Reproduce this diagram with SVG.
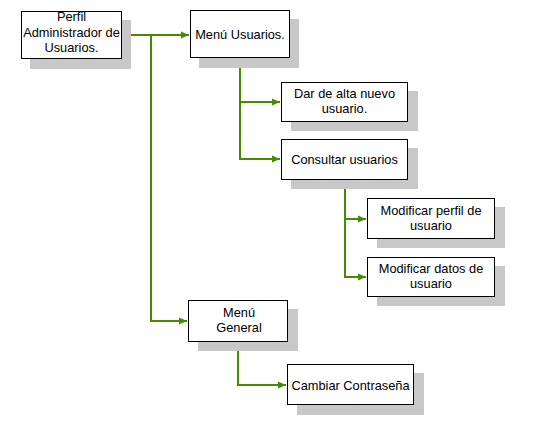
<svg xmlns="http://www.w3.org/2000/svg" width="540" height="435" viewBox="0 0 540 435">
<style>
  .box { fill: #ffffff; stroke: #000000; stroke-width: 1; }
  .shadow { fill: #c8c8c8; stroke: none; }
  .lbl { font-family: "Liberation Sans", Arial, sans-serif; font-size: 12.8px; fill: #000000; text-anchor: middle; }
  .conn { fill: none; stroke: #468c00; stroke-width: 2; }
</style>
<defs>
  <marker id="arr" markerUnits="userSpaceOnUse" markerWidth="9" markerHeight="8" refX="8" refY="4" orient="auto">
    <path d="M0,0.5 L8,4 L0,7.5 Z" fill="#468c00"/>
  </marker>
</defs>
<rect width="540" height="435" fill="#ffffff"/>

<g id="connectors">
  <path class="conn" d="M122,35 H189" marker-end="url(#arr)"/>
  <path class="conn" d="M151,35 V321 H187" marker-end="url(#arr)"/>
  <path class="conn" d="M240,58 V102 H280" marker-end="url(#arr)"/>
  <path class="conn" d="M240,102 V159 H280" marker-end="url(#arr)"/>
  <path class="conn" d="M345,180 V219 H366" marker-end="url(#arr)"/>
  <path class="conn" d="M345,219 V277 H366" marker-end="url(#arr)"/>
  <path class="conn" d="M238,342 V385 H286" marker-end="url(#arr)"/>
</g>

<g id="perfil-admin">
  <rect class="shadow" x="30" y="20" width="101" height="49"/>
  <rect class="box" x="21.5" y="11.5" width="100" height="47"/>
  <text class="lbl" x="71.5" y="21">Perfil</text>
  <text class="lbl" x="71.5" y="36.5">Administrador de</text>
  <text class="lbl" x="71.5" y="52">Usuarios.</text>
</g>

<g id="menu-usuarios">
  <rect class="shadow" x="199" y="19" width="100" height="49"/>
  <rect class="box" x="190.5" y="10.5" width="99" height="47"/>
  <text class="lbl" x="240" y="39">Menú Usuarios.</text>
</g>

<g id="dar-alta">
  <rect class="shadow" x="291" y="91" width="127" height="40"/>
  <rect class="box" x="281.5" y="82.5" width="126" height="39"/>
  <text class="lbl" x="344.5" y="98">Dar de alta nuevo</text>
  <text class="lbl" x="344.5" y="113">usuario.</text>
</g>

<g id="consultar">
  <rect class="shadow" x="291" y="148" width="127" height="41"/>
  <rect class="box" x="281.5" y="139.5" width="126" height="40"/>
  <text class="lbl" x="344.5" y="163.5">Consultar usuarios</text>
</g>

<g id="mod-perfil">
  <rect class="shadow" x="377" y="207" width="128" height="41"/>
  <rect class="box" x="367.5" y="198.5" width="127" height="40"/>
  <text class="lbl" x="431" y="215">Modificar perfil de</text>
  <text class="lbl" x="431" y="230">usuario</text>
</g>

<g id="mod-datos">
  <rect class="shadow" x="377" y="266" width="128" height="40"/>
  <rect class="box" x="367.5" y="257.5" width="127" height="39"/>
  <text class="lbl" x="431" y="273">Modificar datos de</text>
  <text class="lbl" x="431" y="288">usuario</text>
</g>

<g id="menu-general">
  <rect class="shadow" x="198" y="309" width="100" height="42"/>
  <rect class="box" x="188.5" y="300.5" width="99" height="41"/>
  <text class="lbl" x="239" y="317">Menú</text>
  <text class="lbl" x="239" y="332">General</text>
</g>

<g id="cambiar">
  <rect class="shadow" x="297" y="373" width="127" height="42"/>
  <rect class="box" x="287.5" y="364.5" width="126" height="40"/>
  <text class="lbl" x="350.5" y="389.5">Cambiar Contraseña</text>
</g>
</svg>
